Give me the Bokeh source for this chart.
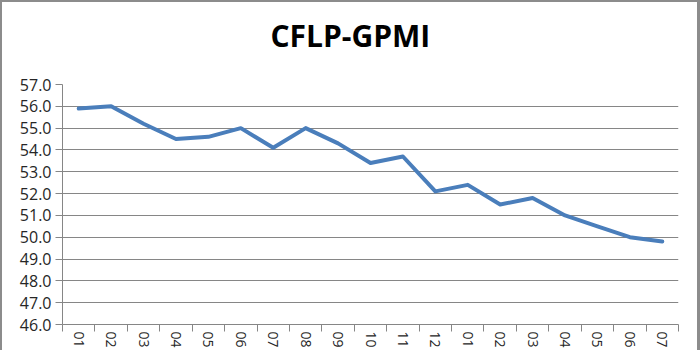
import numpy as np
from bokeh.plotting import figure
from bokeh.models import (Range1d, FixedTicker, NumeralTickFormatter,
                          ColumnDataSource, LinearAxis)
from bokeh.embed import file_html
from bokeh.resources import INLINE

chart_title = "CFLP-GPMI"
month_labels = ["01", "02", "03", "04", "05", "06", "07", "08", "09", "10",
                "11", "12", "01", "02", "03", "04", "05", "06", "07"]
gpmi = [55.9, 56.0, 55.2, 54.5, 54.6, 55.0, 54.1, 55.0, 54.3, 53.4,
        53.7, 52.1, 52.4, 51.5, 51.8, 51.0, 50.5, 50.0, 49.8]
y_ticks = [46, 47, 48, 49, 50, 51, 52, 53, 54, 55, 56, 57]

n = len(month_labels)
pos = [i + 0.5 for i in range(n)]          # category centres
bounds = [float(i) for i in range(n + 1)]  # category boundaries
src = ColumnDataSource(dict(x=pos, y=gpmi))

GRID = "#868686"
TEXT = "#262626"
FONT = "Open Sans"

p = figure(width=700, height=350, output_backend="svg", toolbar_location=None,
           x_range=Range1d(0, n), y_range=Range1d(y_ticks[0], y_ticks[-1]),
           min_border_left=62, min_border_right=22, min_border_top=84,
           min_border_bottom=25)

p.line("x", "y", source=src, line_color="#4a7ebb", line_width=4,
       line_join="round", line_cap="round")

# invisible spacer axis above the frame, lifts the title up
spacer = LinearAxis(ticker=FixedTicker(ticks=[pos[0]]), axis_line_color=None,
                    major_tick_line_color=None, minor_tick_line_color=None,
                    major_tick_out=29, major_tick_in=0, minor_tick_out=0,
                    minor_tick_in=0, major_label_standoff=0,
                    major_label_overrides={pos[0]: ""})
p.add_layout(spacer, "above")

# title
p.title.text = chart_title
p.title.text_font = FONT
p.title.text_font_size = "30px"
p.title.text_font_style = "bold"
p.title.text_color = "#000000"
p.title.align = "left"
p.title.offset = 208
p.title.standoff = 0

# y axis
p.yaxis.ticker = FixedTicker(ticks=y_ticks)
p.yaxis.formatter = NumeralTickFormatter(format="0.0")
p.yaxis.axis_line_color = GRID
p.yaxis.major_tick_line_color = GRID
p.yaxis.major_tick_out = 7
p.yaxis.major_tick_in = 0
p.yaxis.minor_tick_line_color = None
p.yaxis.major_label_standoff = 4
p.yaxis.major_label_text_font = FONT
p.yaxis.major_label_text_font_size = "16px"
p.yaxis.major_label_text_color = TEXT

# x axis: labels at category centres, tick marks at category boundaries
xa = p.below[0]
xa.ticker = FixedTicker(ticks=pos, minor_ticks=bounds)
xa.major_label_overrides = {x: lab for x, lab in zip(pos, month_labels)}
xa.major_label_orientation = "vertical"
xa.axis_line_color = GRID
xa.major_tick_line_color = None
xa.major_tick_out = 0
xa.major_tick_in = 0
xa.minor_tick_line_color = GRID
xa.minor_tick_out = 7
xa.minor_tick_in = 0
xa.major_label_standoff = 0
xa.major_label_text_font = FONT
xa.major_label_text_font_size = "14px"
xa.major_label_text_color = TEXT

p.ygrid.ticker = FixedTicker(ticks=y_ticks)
p.ygrid.grid_line_color = GRID
p.ygrid.grid_line_width = 1
p.xgrid.visible = False
p.outline_line_color = None
p.background_fill_color = "#ffffff"
p.border_fill_alpha = 0
p.styles = {"background-color": "#ffffff",
            "box-shadow": "inset 2px 2px 0 0 #8c8c8c, inset -3px 0 0 0 #8c8c8c"}

open("out.html", "w").write(file_html(p, INLINE))
